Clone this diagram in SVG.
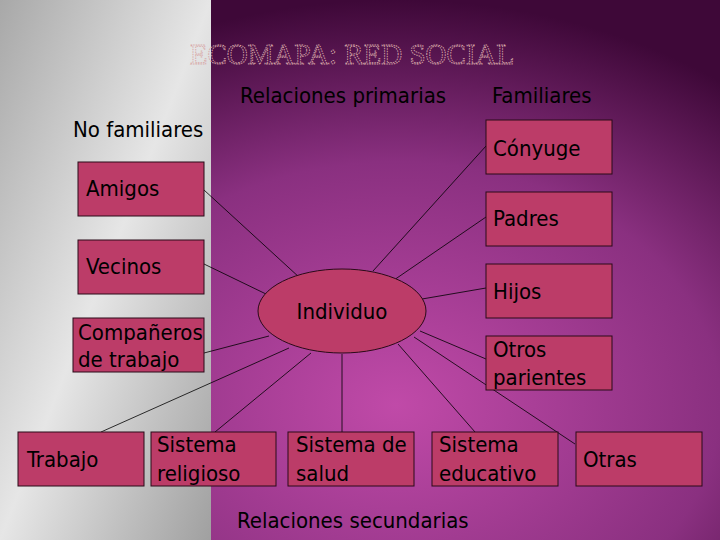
<svg xmlns="http://www.w3.org/2000/svg" width="720" height="540" viewBox="0 0 720 540">
<defs>
<linearGradient id="gr" x1="0" y1="0" x2="1" y2="1"><stop offset="0" stop-color="#a8a8a8"/><stop offset="0.5" stop-color="#e6e6e6"/><stop offset="1" stop-color="#a0a0a0"/></linearGradient>
<radialGradient id="pu" cx="0.55" cy="0.75" r="0.75"><stop offset="0" stop-color="#c04aa8"/><stop offset="0.6" stop-color="#8a3080"/><stop offset="1" stop-color="#3e0838"/></radialGradient>
<style>
.b{fill:#bc3c68;stroke:#2a0a18;stroke-width:1}
.t{font-family:"DejaVu Sans Condensed","DejaVu Sans",sans-serif;font-size:22px;fill:#000}
.c line{stroke:#000;stroke-width:0.8}
</style>
</defs>
<rect width="720" height="540" fill="url(#pu)"/>
<rect width="211" height="540" fill="url(#gr)"/>
<text x="352" y="64" text-anchor="middle" font-family="Liberation Serif,serif" font-size="29" fill="none" stroke="#d8a8a8" stroke-width="0.9" stroke-dasharray="1.5 1">ECOMAPA: RED SOCIAL</text>
<text class="t" x="240" y="103">Relaciones primarias</text>
<text class="t" x="492" y="103">Familiares</text>
<text class="t" x="73" y="137">No familiares</text>
<text class="t" x="237" y="528">Relaciones secundarias</text>
<g class="c">
<line x1="204" y1="190" x2="300" y2="278"/>
<line x1="204" y1="264" x2="266" y2="294"/>
<line x1="204" y1="353" x2="269" y2="336"/>
<line x1="101" y1="432" x2="289" y2="348"/>
<line x1="215" y1="432" x2="311" y2="353"/>
<line x1="342" y1="432" x2="342" y2="354"/>
<line x1="475" y1="432" x2="398" y2="344"/>
<line x1="575" y1="444" x2="414" y2="337"/>
<line x1="486" y1="146" x2="373" y2="271"/>
<line x1="486" y1="217" x2="394" y2="280"/>
<line x1="486" y1="288" x2="422" y2="299"/>
<line x1="486" y1="359" x2="420" y2="331"/>
</g>
<g id="individuo"><ellipse class="b" cx="342" cy="311" rx="84" ry="42"/><text class="t" x="342" y="319" text-anchor="middle">Individuo</text></g>
<g id="amigos"><rect class="b" x="78" y="162" width="126" height="54"/><text class="t" x="86" y="196">Amigos</text></g>
<g id="vecinos"><rect class="b" x="78" y="240" width="126" height="54"/><text class="t" x="86" y="274">Vecinos</text></g>
<g id="companeros"><rect class="b" x="73" y="318" width="131" height="54"/><text class="t" x="78" y="340">Compañeros</text><text class="t" x="78" y="367">de trabajo</text></g>
<g id="conyuge"><rect class="b" x="486" y="120" width="126" height="54"/><text class="t" x="493" y="156">Cónyuge</text></g>
<g id="padres"><rect class="b" x="486" y="192" width="126" height="54"/><text class="t" x="493" y="226">Padres</text></g>
<g id="hijos"><rect class="b" x="486" y="264" width="126" height="54"/><text class="t" x="493" y="299">Hijos</text></g>
<g id="otros"><rect class="b" x="486" y="336" width="126" height="54"/><text class="t" x="493" y="357">Otros</text><text class="t" x="493" y="385">parientes</text></g>
<g id="trabajo"><rect class="b" x="18" y="432" width="126" height="54"/><text class="t" x="27" y="467">Trabajo</text></g>
<g id="religioso"><rect class="b" x="151" y="432" width="125" height="54"/><text class="t" x="157" y="452">Sistema</text><text class="t" x="157" y="481">religioso</text></g>
<g id="salud"><rect class="b" x="288" y="432" width="126" height="54"/><text class="t" x="296" y="452">Sistema de</text><text class="t" x="296" y="481">salud</text></g>
<g id="educativo"><rect class="b" x="432" y="432" width="126" height="54"/><text class="t" x="439" y="452">Sistema</text><text class="t" x="439" y="481">educativo</text></g>
<g id="otras"><rect class="b" x="576" y="432" width="126" height="54"/><text class="t" x="583" y="467">Otras</text></g>
</svg>
